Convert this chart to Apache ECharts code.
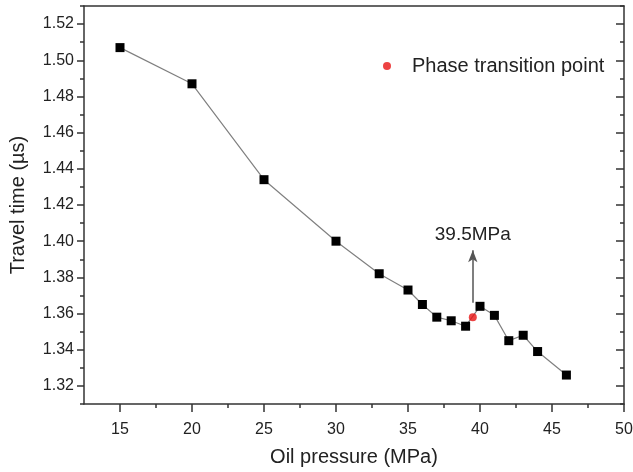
<!doctype html>
<html>
<head>
<meta charset="UTF-8">
<title>Travel time vs oil pressure</title>
<style>
  html, body { margin: 0; padding: 0; background: #fff; }
  #chart { width: 633px; height: 472px; }
</style>
</head>
<body>
<div id="chart"></div>
<script src="https://cdn.jsdelivr.net/npm/echarts@6/dist/echarts.min.js"></script>
<script>
// oil pressure (MPa) and travel time (us)
var pressure = [15, 20, 25, 30, 33, 35, 36, 37, 38, 39, 40, 41, 42, 43, 44, 46];
var travelTime = [1.507, 1.487, 1.434, 1.400, 1.382, 1.373, 1.365, 1.358, 1.356, 1.353, 1.364, 1.359, 1.345, 1.348, 1.339, 1.326];

// phase transition point
var phasePoint = [39.5, 1.358];
var arrowFrom = 1.366;
var arrowTo = 1.395;

// ticks
var xMajor = [15, 20, 25, 30, 35, 40, 45, 50];
var xMinor = [17.5, 22.5, 27.5, 32.5, 37.5, 42.5, 47.5];
var yMajor = [1.32, 1.34, 1.36, 1.38, 1.40, 1.42, 1.44, 1.46, 1.48, 1.50, 1.52];
var yMinor = [1.31, 1.33, 1.35, 1.37, 1.39, 1.41, 1.43, 1.45, 1.47, 1.49, 1.51, 1.53];

var font = 'Arial, "Liberation Sans", sans-serif';
var axisCol = '#333';

var myChart = echarts.init(document.getElementById('chart'));

var pts = pressure.map(function (p, i) { return [p, travelTime[i]]; });

function xAx(opt) {
    var base = {
        type: 'value', min: 12.5, max: 50, gridIndex: 0,
        splitLine: { show: false },
        axisLine: { show: false },
        axisTick: { show: false },
        axisLabel: { show: false }
    };
    return Object.assign(base, opt);
}
function yAx(opt) {
    var base = {
        type: 'value', min: 1.31, max: 1.53, gridIndex: 0,
        splitLine: { show: false },
        axisLine: { show: false },
        axisTick: { show: false },
        axisLabel: { show: false }
    };
    return Object.assign(base, opt);
}

var option = {
    backgroundColor: '#fff',
    animation: false,
    textStyle: { fontFamily: font },
    grid: { left: 84, right: 9, top: 6, bottom: 68, containLabel: false, outerBoundsMode: 'none' },
    legend: {
        data: [{ name: 'Phase transition point', icon: 'circle' }],
        left: 378, top: 51,
        itemWidth: 8, itemHeight: 8, itemGap: 10,
        textStyle: { fontSize: 20, color: '#222', fontFamily: font, padding: [0, 0, 0, 16] }
    },
    xAxis: [
        xAx({
            position: 'bottom',
            axisLine: { show: true, onZero: false, lineStyle: { color: axisCol, width: 1.5 } },
            axisTick: { show: true, customValues: xMajor, length: 8, lineStyle: { color: axisCol, width: 1.5 } },
            axisLabel: { show: true, customValues: xMajor, fontSize: 16, color: '#222', margin: 18, fontFamily: font },
            name: 'Oil pressure (MPa)', nameLocation: 'middle', nameGap: 43,
            nameTextStyle: { fontSize: 20, color: '#222', fontFamily: font }
        }),
        xAx({
            position: 'bottom',
            axisTick: { show: true, customValues: xMinor, length: 4, lineStyle: { color: axisCol, width: 1.5 } }
        }),
        xAx({
            position: 'top',
            axisLine: { show: true, onZero: false, lineStyle: { color: axisCol, width: 1.5 } }
        })
    ],
    yAxis: [
        yAx({
            position: 'left',
            axisLine: { show: true, onZero: false, lineStyle: { color: axisCol, width: 1.5 } },
            axisTick: { show: true, customValues: yMajor, length: 7, lineStyle: { color: axisCol, width: 1.5 } },
            axisLabel: {
                show: true, customValues: yMajor, fontSize: 16, color: '#222', margin: 10, fontFamily: font,
                formatter: function (v) { return v.toFixed(2); }
            },
            name: 'Travel time (\u00b5s)', nameLocation: 'middle', nameGap: 56,
            nameTextStyle: { fontSize: 20, color: '#222', fontFamily: font }
        }),
        yAx({
            position: 'left',
            axisTick: { show: true, customValues: yMinor, length: 4, lineStyle: { color: axisCol, width: 1.5 } }
        }),
        yAx({
            position: 'right',
            axisLine: { show: true, onZero: false, lineStyle: { color: axisCol, width: 1.5 } },
            axisTick: { show: true, inside: true, customValues: yMajor, length: 8, lineStyle: { color: axisCol, width: 1.5 } }
        }),
        yAx({
            position: 'right',
            axisTick: { show: true, inside: true, customValues: yMinor, length: 4, lineStyle: { color: axisCol, width: 1.5 } }
        })
    ],
    series: [
        {
            name: 'Travel time',
            type: 'line',
            xAxisIndex: 0, yAxisIndex: 0,
            data: pts,
            symbol: 'rect',
            symbolSize: 9,
            itemStyle: { color: '#000' },
            lineStyle: { color: '#808080', width: 1.2 },
            z: 3
        },
        {
            name: 'Phase transition point',
            type: 'scatter',
            xAxisIndex: 0, yAxisIndex: 0,
            data: [phasePoint],
            symbol: 'circle',
            symbolSize: 8,
            itemStyle: { color: '#e81414' },
            z: 4,
            markLine: {
                silent: true,
                symbol: ['none', 'arrow'],
                symbolSize: [7, 12],
                lineStyle: { color: '#555', width: 1.5, type: 'solid' },
                label: {
                    show: true, position: 'end', distance: 6,
                    formatter: '39.5MPa', fontSize: 19, color: '#222', fontFamily: font
                },
                data: [[
                    { coord: [phasePoint[0], arrowFrom] },
                    { coord: [phasePoint[0], arrowTo] }
                ]]
            }
        }
    ]
};
myChart.setOption(option);
</script>
</body>
</html>
